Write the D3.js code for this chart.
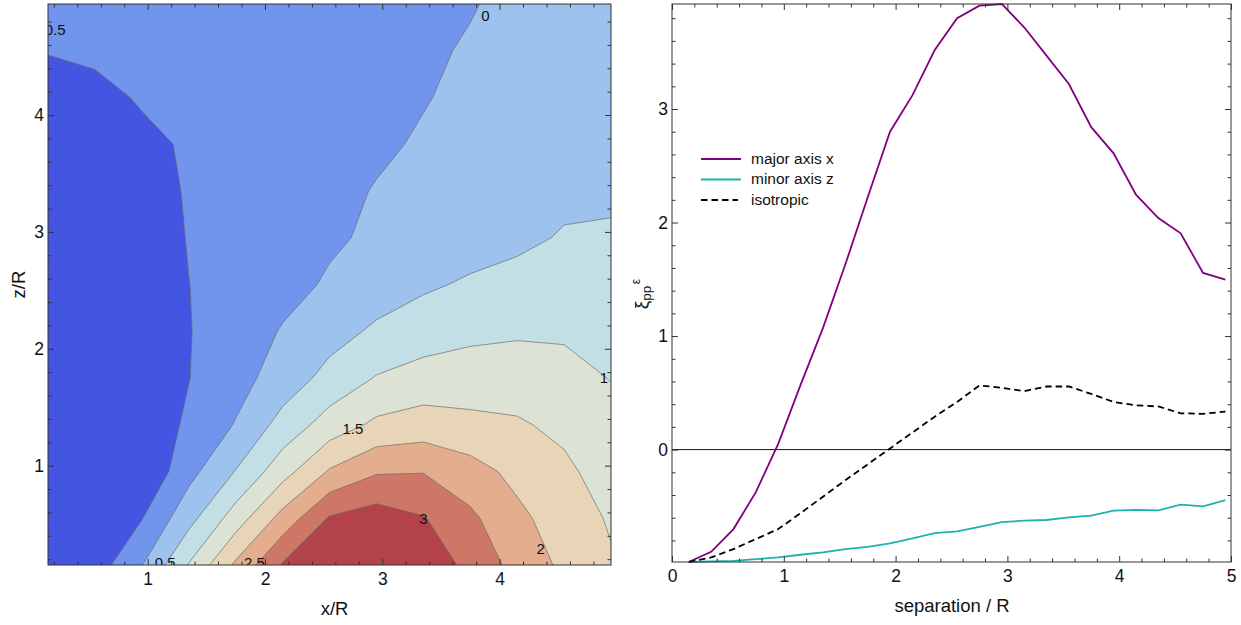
<!DOCTYPE html>
<html lang="en">
<head>
<meta charset="utf-8">
<title>Contour map and separation profiles</title>
<script src="https://cdnjs.cloudflare.com/ajax/libs/d3/7.8.5/d3.min.js"></script>
<style>
	body{
		margin: 0;
		background: #fff;
	}
	svg{
		display: block;
		font-family: 'Liberation Sans', Arial, sans-serif;
	}
	.frame{
		fill: none;
		stroke: #333;
		stroke-width: 1;
	}
	.axis line{
		stroke: #333;
	}
	.axis text{
		font-size: 17.5px;
		fill: #111;
		font-family: 'Liberation Sans', Arial, sans-serif;
	}
	.title{
		font-size: 18.5px;
		fill: #111;
	}
	.clabel{
		font-size: 15px;
		fill: #111;
	}
	.legend text{
		font-size: 15.5px;
		fill: #111;
	}
</style>
</head>
<body>
<svg id="chart" width="1241" height="625"></svg>
<script>
	// ---- left panel: sampled field on a 0.4 grid (rows = z, columns = x)
	var gridX = [0.15, 0.55, 0.95, 1.35, 1.75, 2.15, 2.55, 2.95, 3.35, 3.75, 4.15, 4.55, 4.95];
	var gridZ = [0.15, 0.55, 0.95, 1.35, 1.75, 2.15, 2.55, 2.95, 3.35, 3.75, 4.15, 4.55, 4.95];
	var field = [
		[-0.95, -0.76, -0.02, 1.03, 2.09, 3.05, 3.30, 3.40, 3.30, 2.88, 2.32, 1.90, 1.55],
		[-0.90, -0.75, -0.52, 0.33, 1.24, 2.18, 3.05, 3.25, 3.03, 2.60, 2.12, 1.75, 1.45],
		[-1.00, -0.98, -0.96, -0.16, 0.52, 1.30, 2.05, 2.45, 2.48, 2.20, 1.86, 1.59, 1.30],
		[-1.00, -0.90, -0.75, -0.44, 0.03, 0.68, 1.22, 1.60, 1.72, 1.62, 1.55, 1.40, 1.18],
		[-1.00, -0.95, -0.80, -0.51, -0.18, 0.22, 0.66, 1.03, 1.20, 1.25, 1.28, 1.20, 0.98],
		[-1.00, -0.95, -0.80, -0.52, -0.24, 0.03, 0.31, 0.58, 0.75, 0.88, 0.93, 0.92, 0.85],
		[-1.00, -0.95, -0.80, -0.505, -0.32, -0.14, 0.05, 0.25, 0.43, 0.56, 0.62, 0.66, 0.67],
		[-1.00, -0.95, -0.75, -0.48, -0.34, -0.20, -0.06, 0.07, 0.19, 0.30, 0.42, 0.53, 0.56],
		[-1.00, -0.90, -0.70, -0.46, -0.34, -0.22, -0.10, 0.02, 0.13, 0.24, 0.33, 0.42, 0.42],
		[-0.95, -0.85, -0.62, -0.44, -0.35, -0.26, -0.16, -0.06, 0.04, 0.13, 0.22, 0.30, 0.35],
		[-0.80, -0.65, -0.45, -0.38, -0.32, -0.26, -0.18, -0.10, -0.02, 0.08, 0.17, 0.24, 0.30],
		[-0.47, -0.40, -0.36, -0.32, -0.28, -0.24, -0.20, -0.14, -0.05, 0.03, 0.12, 0.19, 0.25],
		[-0.45, -0.40, -0.36, -0.33, -0.30, -0.26, -0.22, -0.16, -0.10, -0.02, 0.08, 0.15, 0.20]
	];
	var levels = [-0.5, 0, 0.5, 1, 1.5, 2, 2.5, 3];
	var bandColors = ['#4455e2', '#7194ec', '#9ec2ee', '#c3dfe6', '#dce2d4', '#e8d5b8', '#e3ad8e', '#cf7767', '#b4424a'];
	var labelText = ['-0.5', '0', '1', '1.5', '3', '2', '0.5', '2.5'];
	var labelX = [0.19, 3.88, 4.89, 2.75, 3.35, 4.35, 1.15, 1.91];
	var labelZ = [4.73, 4.85, 1.75, 1.32, 0.55, 0.29, 0.17, 0.17];

	// ---- right panel: profiles against separation
	var separation = [0.15, 0.35, 0.55, 0.75, 0.95, 1.15, 1.35, 1.55, 1.75, 1.95, 2.15, 2.35, 2.55,
		2.75, 2.95, 3.15, 3.35, 3.55, 3.75, 3.95, 4.15, 4.35, 4.55, 4.75, 4.95];
	var majorX = [-0.99, -0.90, -0.70, -0.375, 0.05, 0.57, 1.07, 1.63, 2.22, 2.80, 3.12, 3.52, 3.80,
		3.91, 3.925, 3.72, 3.47, 3.22, 2.84, 2.61, 2.245, 2.04, 1.905, 1.556, 1.497];
	var minorZ = [-0.99, -0.985, -0.98, -0.965, -0.95, -0.926, -0.906, -0.876, -0.856, -0.826, -0.782, -0.735, -0.72,
		-0.68, -0.638, -0.626, -0.62, -0.597, -0.582, -0.538, -0.53, -0.535, -0.485, -0.50, -0.444];
	var isotropic = [-0.99, -0.95, -0.876, -0.788, -0.70, -0.56, -0.415, -0.27, -0.13, 0.01, 0.15, 0.29, 0.42,
		0.565, 0.545, 0.515, 0.556, 0.556, 0.49, 0.42, 0.39, 0.38, 0.32, 0.315, 0.335];
	var seriesNames = ['major axis x', 'minor axis z', 'isotropic'];
	var seriesColors = ['#800080', '#1cb3ae', '#000000'];

	var svg = d3.select('#chart');

	function range(a, b, s) {
		var out = [];
		for (var v = a; v <= b + 1e-9; v += s) {
			out.push(Math.round(v * 1000) / 1000);
		}
		return out;
	}

	// ticks on all four sides, pointing inward
	function frameTicks(g, x, y, w, h, xMajor, xMinor, yMajor, yMinor) {
		var defs = [
			[d3.axisBottom(x), 'translate(0,' + h + ')', xMajor, xMinor, true, false],
			[d3.axisTop(x), null, xMajor, xMinor, false, false],
			[d3.axisLeft(y), null, yMajor, yMinor, true, true],
			[d3.axisRight(y), 'translate(' + w + ',0)', yMajor, yMinor, false, true]
		];
		defs.forEach(function (d) {
			var pad = d[5] ? 4 : 8;
			var major = d[0].tickValues(d[2]).tickSize(-6).tickPadding(pad)
				.tickFormat(d[4] ? d3.format('d') : function () { return ''; });
			var ga = g.append('g').attr('class', 'axis').call(major);
			if (d[1]) ga.attr('transform', d[1]);
			ga.select('.domain').remove();
			var minorAxis = d[0].tickValues(d[3]).tickSize(-3.5).tickFormat(function () { return ''; });
			var gm = g.append('g').attr('class', 'axis').call(minorAxis);
			if (d[1]) gm.attr('transform', d[1]);
			gm.select('.domain').remove();
		});
		g.append('rect').attr('class', 'frame').attr('width', w).attr('height', h);
	}

	// ===== left panel =====
	var L = {left: 48, top: 4, w: 563, h: 561};
	var xL = d3.scaleLinear().domain([0.15, 4.95]).range([0, L.w]);
	var zL = d3.scaleLinear().domain([0.15, 4.95]).range([L.h, 0]);
	var gL = svg.append('g').attr('transform', 'translate(' + L.left + ',' + L.top + ')');

	svg.append('defs').append('clipPath').attr('id', 'clipL')
		.append('rect').attr('width', L.w).attr('height', L.h);

	var values = [];
	field.forEach(function (row) {
		row.forEach(function (v) { values.push(v); });
	});
	var n = gridX.length, m = gridZ.length;
	var gx = d3.scaleLinear().domain([0.5, n - 0.5]).range([gridX[0], gridX[n - 1]]);
	var gz = d3.scaleLinear().domain([0.5, m - 0.5]).range([gridZ[0], gridZ[m - 1]]);
	var proj = d3.geoTransform({
		point: function (px, pz) {
			this.stream.point(xL(gx(px)), zL(gz(pz)));
		}
	});
	var path = d3.geoPath(proj);
	var bands = d3.contours().size([n, m]).thresholds(levels)(values);

	var plotL = gL.append('g').attr('clip-path', 'url(#clipL)');
	plotL.append('rect').attr('width', L.w).attr('height', L.h).attr('fill', bandColors[0]);
	plotL.selectAll('path.band')
		.data(bands)
		.enter().append('path')
		.attr('class', 'band')
		.attr('d', path)
		.attr('fill', function (d, i) { return bandColors[i + 1]; })
		.attr('stroke', '#6a6a6a')
		.attr('stroke-opacity', 0.85)
		.attr('stroke-width', 0.8)
		.attr('stroke-linejoin', 'round');

	plotL.selectAll('text.clabel')
		.data(labelText)
		.enter().append('text')
		.attr('class', 'clabel')
		.attr('x', function (d, i) { return xL(labelX[i]); })
		.attr('y', function (d, i) { return zL(labelZ[i]); })
		.attr('text-anchor', 'middle')
		.attr('dy', '0.36em')
		.text(function (d) { return d; });

	frameTicks(gL, xL, zL, L.w, L.h,
		[1, 2, 3, 4], range(0.2, 4.8, 0.2).filter(function (v) { return v % 1 !== 0; }),
		[1, 2, 3, 4], range(0.2, 4.8, 0.2).filter(function (v) { return v % 1 !== 0; }));

	gL.append('text').attr('class', 'title')
		.attr('x', L.w / 2 + 5).attr('y', 611)
		.attr('text-anchor', 'middle').text('x/R');
	gL.append('text').attr('class', 'title')
		.attr('transform', 'translate(-23,' + (L.h / 2) + ') rotate(-90)')
		.attr('text-anchor', 'middle').text('z/R');

	// ===== right panel =====
	var R = {left: 672, top: 4, w: 559, h: 558};
	var xR = d3.scaleLinear().domain([0, 5]).range([0, R.w]);
	var yR = d3.scaleLinear().domain([-0.99, 3.925]).range([R.h, 0]);
	var gR = svg.append('g').attr('transform', 'translate(' + R.left + ',' + R.top + ')');

	gR.append('line')
		.attr('x1', 0).attr('x2', R.w)
		.attr('y1', yR(0)).attr('y2', yR(0))
		.attr('stroke', '#111').attr('stroke-width', 1);

	var seriesData = [majorX, minorZ, isotropic];
	var line = d3.line()
		.x(function (d, i) { return xR(separation[i]); })
		.y(function (d) { return yR(d); });

	gR.selectAll('path.series')
		.data(seriesData)
		.enter().append('path')
		.attr('class', 'series')
		.attr('d', line)
		.attr('fill', 'none')
		.attr('stroke', function (d, i) { return seriesColors[i]; })
		.attr('stroke-width', 1.8)
		.attr('stroke-dasharray', function (d, i) { return i === 2 ? '6.5,4' : null; });

	frameTicks(gR, xR, yR, R.w, R.h,
		[0, 1, 2, 3, 4, 5], range(0.2, 4.8, 0.2).filter(function (v) { return v % 1 !== 0; }),
		[0, 1, 2, 3], range(-0.8, 3.8, 0.2).filter(function (v) { return Math.abs(v % 1) > 1e-6; }));

	gR.append('text').attr('class', 'title')
		.attr('x', 280).attr('y', 608)
		.attr('text-anchor', 'middle').text('separation / R');

	// y title: xi with subscript pp and superscript epsilon, read bottom to top
	var yTitle = gR.append('text').attr('class', 'title')
		.attr('transform', 'translate(-24,290) rotate(-90)')
		.attr('text-anchor', 'middle')
		.style('font-size', '19px');
	yTitle.append('tspan').text('\u03be');
	yTitle.append('tspan').attr('font-size', '13.5px').attr('dy', 3).text('pp');
	yTitle.append('tspan').attr('font-size', '12px').attr('dy', -11).attr('dx', 1.5).text('\u03b5');

	var legend = gR.append('g').attr('class', 'legend').attr('transform', 'translate(29,155)');
	var rows = legend.selectAll('g')
		.data(seriesNames)
		.enter().append('g')
		.attr('transform', function (d, i) { return 'translate(0,' + (i * 20.5) + ')'; });
	rows.append('line')
		.attr('x1', 0).attr('x2', function (d, i) { return i === 2 ? 37 : 40; })
		.attr('y1', 0).attr('y2', 0)
		.attr('stroke', function (d, i) { return seriesColors[i]; })
		.attr('stroke-width', 1.8)
		.attr('stroke-dasharray', function (d, i) { return i === 2 ? '6.5,4' : null; });
	rows.append('text')
		.attr('x', 50).attr('y', 0).attr('dy', '0.3em')
		.text(function (d) { return d; });
</script>
</body>
</html>
